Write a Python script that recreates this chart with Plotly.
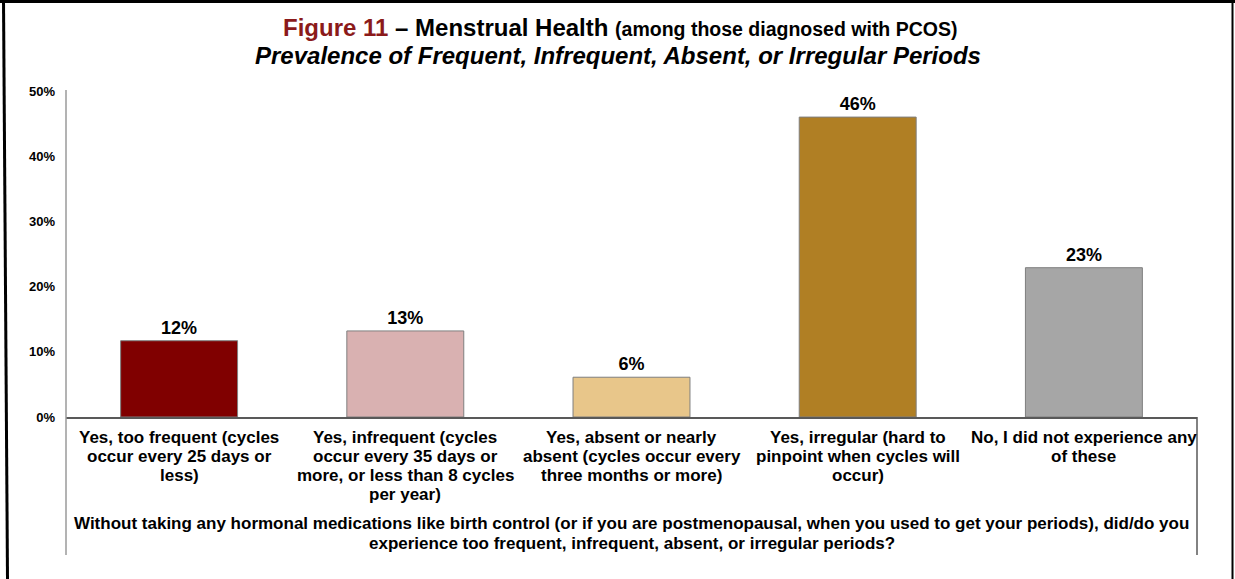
import plotly.graph_objects as go

categories = [
    "Yes, too frequent (cycles<br>occur every 25 days or<br>less)",
    "Yes, infrequent (cycles<br>occur every 35 days or<br>more, or less than 8 cycles<br>per year)",
    "Yes, absent or nearly<br>absent (cycles occur every<br>three months or more)",
    "Yes, irregular (hard to<br>pinpoint when cycles will<br>occur)",
    "No, I did not experience any<br>of these",
]
values = [11.7, 13.2, 6.1, 46.0, 22.9]
bar_colors = ["#800000", "#D9B1B1", "#E8C68A", "#B07F24", "#A6A6A6"]
y_ticks = [0, 10, 20, 30, 40, 50]
y_tick_labels = ["0%", "10%", "20%", "30%", "40%", "50%"]

title_line1 = ("<span style='color:#8B1A1A'>Figure 11</span> – Menstrual Health "
               "<span style='font-size:19.5px'>(among those diagnosed with PCOS)</span>")
title_line2 = "<i>Prevalence of Frequent, Infrequent, Absent, or Irregular Periods</i>"
axis_title = ("Without taking any hormonal medications like birth control (or if you are postmenopausal, "
              "when you used to get your periods), did/do you<br>experience too frequent, infrequent, "
              "absent, or irregular periods?")

FONT = "Liberation Sans, Arial, sans-serif"

fig = go.Figure(go.Bar(
    x=list(range(len(categories))),
    y=values,
    marker=dict(color=bar_colors, line=dict(color="#7F7F7F", width=1)),
    texttemplate="<b>%{y:.0f}%</b>",
    textposition="outside",
    textfont=dict(size=18, color="black", family=FONT),
    cliponaxis=False,
    width=0.517,
))

W, H = 1235, 579
L, R, T, B = 66, 38, 91, 162
pw, ph = W - L - R, H - T - B


def px_x(p):
    return (p - L) / pw


def px_y(p):
    return (H - B - p) / ph


annotations = [
    dict(text="<b>" + title_line1 + "</b>", x=px_x(620), y=px_y(27), xref="paper", yref="paper",
         xanchor="center", yanchor="middle", showarrow=False, font=dict(size=24, color="black", family=FONT)),
    dict(text="<b>" + title_line2 + "</b>", x=px_x(617.5), y=px_y(56), xref="paper", yref="paper",
         xanchor="center", yanchor="middle", showarrow=False, font=dict(size=24, color="black", family=FONT)),
]

# category labels, one annotation per line for tight line spacing
for i, cat in enumerate(categories):
    for j, line in enumerate(cat.split("<br>")):
        annotations.append(dict(
            text="<b>" + line + "</b>", x=i, y=px_y(437 + j * 19.2), xref="x", yref="paper",
            xanchor="center", yanchor="middle", showarrow=False,
            font=dict(size=17, color="black", family=FONT)))

for j, line in enumerate(axis_title.split("<br>")):
    annotations.append(dict(
        text="<b>" + line + "</b>", x=px_x(631.5), y=px_y(523 + j * 20), xref="paper", yref="paper",
        xanchor="center", yanchor="middle", showarrow=False,
        font=dict(size=17, color="black", family=FONT)))

fig.update_layout(
    width=W, height=H,
    margin=dict(l=L, r=R, t=T, b=B),
    paper_bgcolor="white", plot_bgcolor="white",
    showlegend=False,
    font=dict(family=FONT, color="black"),
    xaxis=dict(
        range=[-0.5, len(categories) - 0.5], showticklabels=False,
        showline=True, linecolor="#595959", linewidth=1.5,
        ticks="", showgrid=False, zeroline=False,
    ),
    yaxis=dict(
        range=[0, 50], tickmode="array", tickvals=y_ticks,
        ticktext=["<b>" + t + "</b>" for t in y_tick_labels],
        tickfont=dict(size=13, color="black", family=FONT),
        showline=False, showgrid=False, zeroline=False, ticks="",
        ticklabelstandoff=10,
    ),
    annotations=annotations,
    shapes=[
        dict(type="line", xref="paper", yref="paper", x0=0, x1=0, y0=px_y(555), y1=px_y(90),
             line=dict(color="#9A9A9A", width=1.5)),
        dict(type="line", xref="paper", yref="paper", x0=1, x1=1, y0=px_y(555), y1=px_y(417),
             line=dict(color="#595959", width=1.5)),
        dict(type="line", xref="paper", yref="paper", x0=px_x(0), x1=px_x(W), y0=px_y(1.5), y1=px_y(1.5),
             line=dict(color="black", width=3)),
        dict(type="line", xref="paper", yref="paper", x0=px_x(3.5), x1=px_x(7.5), y0=px_y(0), y1=px_y(H),
             line=dict(color="black", width=3)),
        dict(type="line", xref="paper", yref="paper", x0=px_x(1232.5), x1=px_x(1232.5), y0=px_y(H), y1=px_y(0),
             line=dict(color="black", width=2)),
    ],
)

fig.write_html("out.html", config={"displayModeBar": False},
               post_script="document.body.style.margin='0px';")
